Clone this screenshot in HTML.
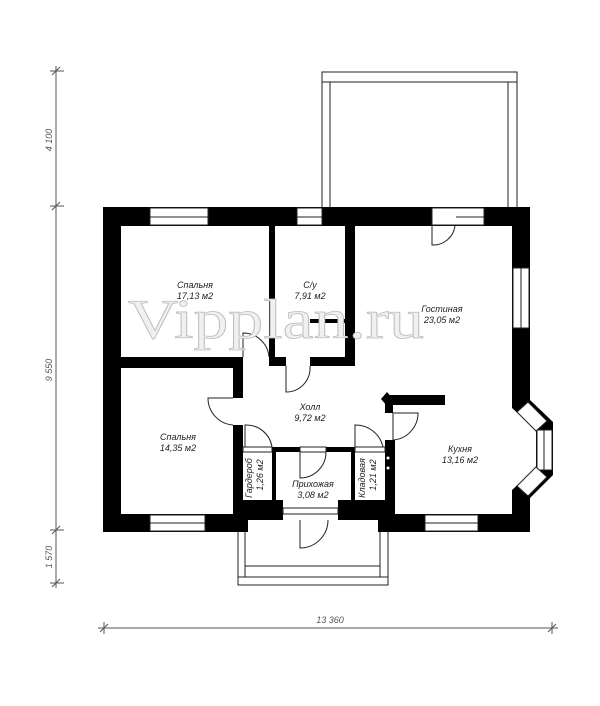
<!DOCTYPE html>
<html><head><meta charset="utf-8"><style>
html,body{margin:0;padding:0;background:#fff}
svg{display:block}
.t{font-family:"Liberation Sans",sans-serif;font-style:italic;font-size:9px;fill:#222}
.d{font-family:"Liberation Sans",sans-serif;font-style:italic;font-size:9px;fill:#555}
</style></head><body>
<svg width="600" height="706" viewBox="0 0 600 706" xmlns="http://www.w3.org/2000/svg">
<rect width="600" height="706" fill="#fff"/>
<g stroke="#555" stroke-width="1">
<line x1="56" y1="66" x2="56" y2="588"/>
<line x1="50" y1="71" x2="64" y2="71"/><line x1="52" y1="75" x2="60" y2="67"/>
<line x1="50" y1="206" x2="64" y2="206"/><line x1="52" y1="210" x2="60" y2="202"/>
<line x1="50" y1="530" x2="64" y2="530"/><line x1="52" y1="534" x2="60" y2="526"/>
<line x1="50" y1="583" x2="64" y2="583"/><line x1="52" y1="587" x2="60" y2="579"/>
<line x1="98" y1="628" x2="558" y2="628"/>
<line x1="104" y1="622" x2="104" y2="634"/><line x1="100" y1="632" x2="108" y2="624"/>
<line x1="552" y1="622" x2="552" y2="634"/><line x1="548" y1="632" x2="556" y2="624"/>
</g>
<text class="d" transform="translate(52,140) rotate(-90)" text-anchor="middle">4 100</text>
<text class="d" transform="translate(52,370) rotate(-90)" text-anchor="middle">9 550</text>
<text class="d" transform="translate(52,557) rotate(-90)" text-anchor="middle">1 570</text>
<text class="d" x="330" y="623" text-anchor="middle">13 360</text>
<g fill="none" stroke="#222" stroke-width="1">
<path d="M322 208 V72 H517 V208"/><path d="M330 208 V82 H508 V208"/><line x1="322" y1="82" x2="517" y2="82"/>
<path d="M238 530 V585 H388 V530"/><path d="M245 530 V577 H380 V530"/><line x1="245" y1="566" x2="380" y2="566"/><line x1="238" y1="577" x2="388" y2="577"/>
</g>
<g fill="#000">
<rect x="103" y="207" width="427" height="19"/>
<rect x="103" y="207" width="18" height="325"/>
<rect x="103" y="514" width="145" height="18"/>
<rect x="378" y="514" width="152" height="18"/>
<rect x="512" y="207" width="18" height="195"/>
<rect x="512" y="494" width="18" height="38"/>
<polygon points="512,400 530,400 553,422 553,475 530,498 512,498 512,490 536,468 536,430 512,408"/>
<rect x="121" y="357" width="122" height="11"/>
<rect x="269" y="226" width="6" height="140"/>
<rect x="269" y="357" width="17" height="9"/>
<rect x="310" y="357" width="45" height="9"/>
<rect x="345" y="226" width="10" height="140"/>
<rect x="233" y="357" width="10" height="41"/>
<rect x="233" y="425" width="10" height="95"/>
<rect x="233" y="500" width="50" height="20"/>
<rect x="338" y="500" width="50" height="20"/>
<rect x="385" y="395" width="60" height="10"/>
<rect x="385" y="395" width="8" height="18"/>
<polygon points="381,399 387,392 393,399 387,406"/>
<rect x="385" y="440" width="10" height="80"/>
<rect x="243" y="447" width="142" height="5"/>
<rect x="272" y="447" width="4" height="55"/>
<rect x="351" y="447" width="4" height="55"/>
<rect x="345" y="298" width="10" height="14"/>
<rect x="310" y="319" width="45" height="4"/>
</g>
<g fill="#fff" stroke="#222" stroke-width="1">
<rect x="150" y="208" width="58" height="17"/><line x1="150" y1="217" x2="208" y2="217"/>
<rect x="297" y="208" width="25" height="17"/><line x1="297" y1="217" x2="322" y2="217"/>
<rect x="432" y="208" width="52" height="17"/><line x1="456" y1="217" x2="484" y2="217"/>
<rect x="513" y="268" width="16" height="60"/><line x1="521" y1="268" x2="521" y2="328"/>
<rect x="150" y="515" width="55" height="16"/><line x1="150" y1="523" x2="205" y2="523"/>
<rect x="425" y="515" width="53" height="16"/><line x1="425" y1="523" x2="478" y2="523"/>
<rect x="537" y="430" width="15" height="40"/><line x1="544" y1="430" x2="544" y2="470"/>
<polygon points="517,412 528,402 547,421 536,431"/>
<polygon points="517,486 536,467 547,477 528,496"/>
<rect x="243" y="447" width="29" height="5"/><rect x="300" y="447" width="26" height="5"/><rect x="355" y="447" width="30" height="5"/>
<rect x="283" y="508" width="55" height="6"/>
</g>
<g fill="none" stroke="#222" stroke-width="1">
<path d="M432 226 V245 A22 22 0 0 0 455 226"/>
<path d="M243 357 V333 A26 26 0 0 1 269 357"/>
<path d="M286 366 V392 A24 24 0 0 0 310 366"/>
<path d="M233 398 H208 A27 27 0 0 0 233 425"/>
<path d="M245 447 V425 A26 26 0 0 1 272 447"/>
<path d="M355 447 V425 A28 28 0 0 1 383 447"/>
<path d="M300 452 V478 A26 26 0 0 0 326 452"/>
<path d="M393 413 V440 A27 27 0 0 0 418 413 H393"/>
<path d="M300 520 V548 A28 28 0 0 0 328 520"/>
</g>
<circle cx="388" cy="458" r="1.5" fill="#fff"/><circle cx="388" cy="468" r="1.5" fill="#fff"/>
<text x="128" y="338" textLength="296" lengthAdjust="spacingAndGlyphs" font-family="'Liberation Serif',serif" font-size="56" fill="#f0f0f0" stroke="#bbb" stroke-width="0.8">Vipplan.ru</text>
<text class="t" x="195" y="288" text-anchor="middle">Спальня</text>
<text class="t" x="195" y="299" text-anchor="middle">17,13 м2</text>
<text class="t" x="310" y="288" text-anchor="middle">С/у</text>
<text class="t" x="310" y="299" text-anchor="middle">7,91 м2</text>
<text class="t" x="442" y="312" text-anchor="middle">Гостиная</text>
<text class="t" x="442" y="323" text-anchor="middle">23,05 м2</text>
<text class="t" x="178" y="440" text-anchor="middle">Спальня</text>
<text class="t" x="178" y="451" text-anchor="middle">14,35 м2</text>
<text class="t" x="310" y="410" text-anchor="middle">Холл</text>
<text class="t" x="310" y="421" text-anchor="middle">9,72 м2</text>
<text class="t" x="460" y="452" text-anchor="middle">Кухня</text>
<text class="t" x="460" y="463" text-anchor="middle">13,16 м2</text>
<text class="t" x="313" y="487" text-anchor="middle">Прихожая</text>
<text class="t" x="313" y="498" text-anchor="middle">3,08 м2</text>
<text class="t" transform="translate(252,478) rotate(-90)" text-anchor="middle">Гардероб</text>
<text class="t" transform="translate(263,475) rotate(-90)" text-anchor="middle">1,26 м2</text>
<text class="t" transform="translate(365,478) rotate(-90)" text-anchor="middle">Кладовая</text>
<text class="t" transform="translate(376,475) rotate(-90)" text-anchor="middle">1,21 м2</text>
</svg>
</body></html>
